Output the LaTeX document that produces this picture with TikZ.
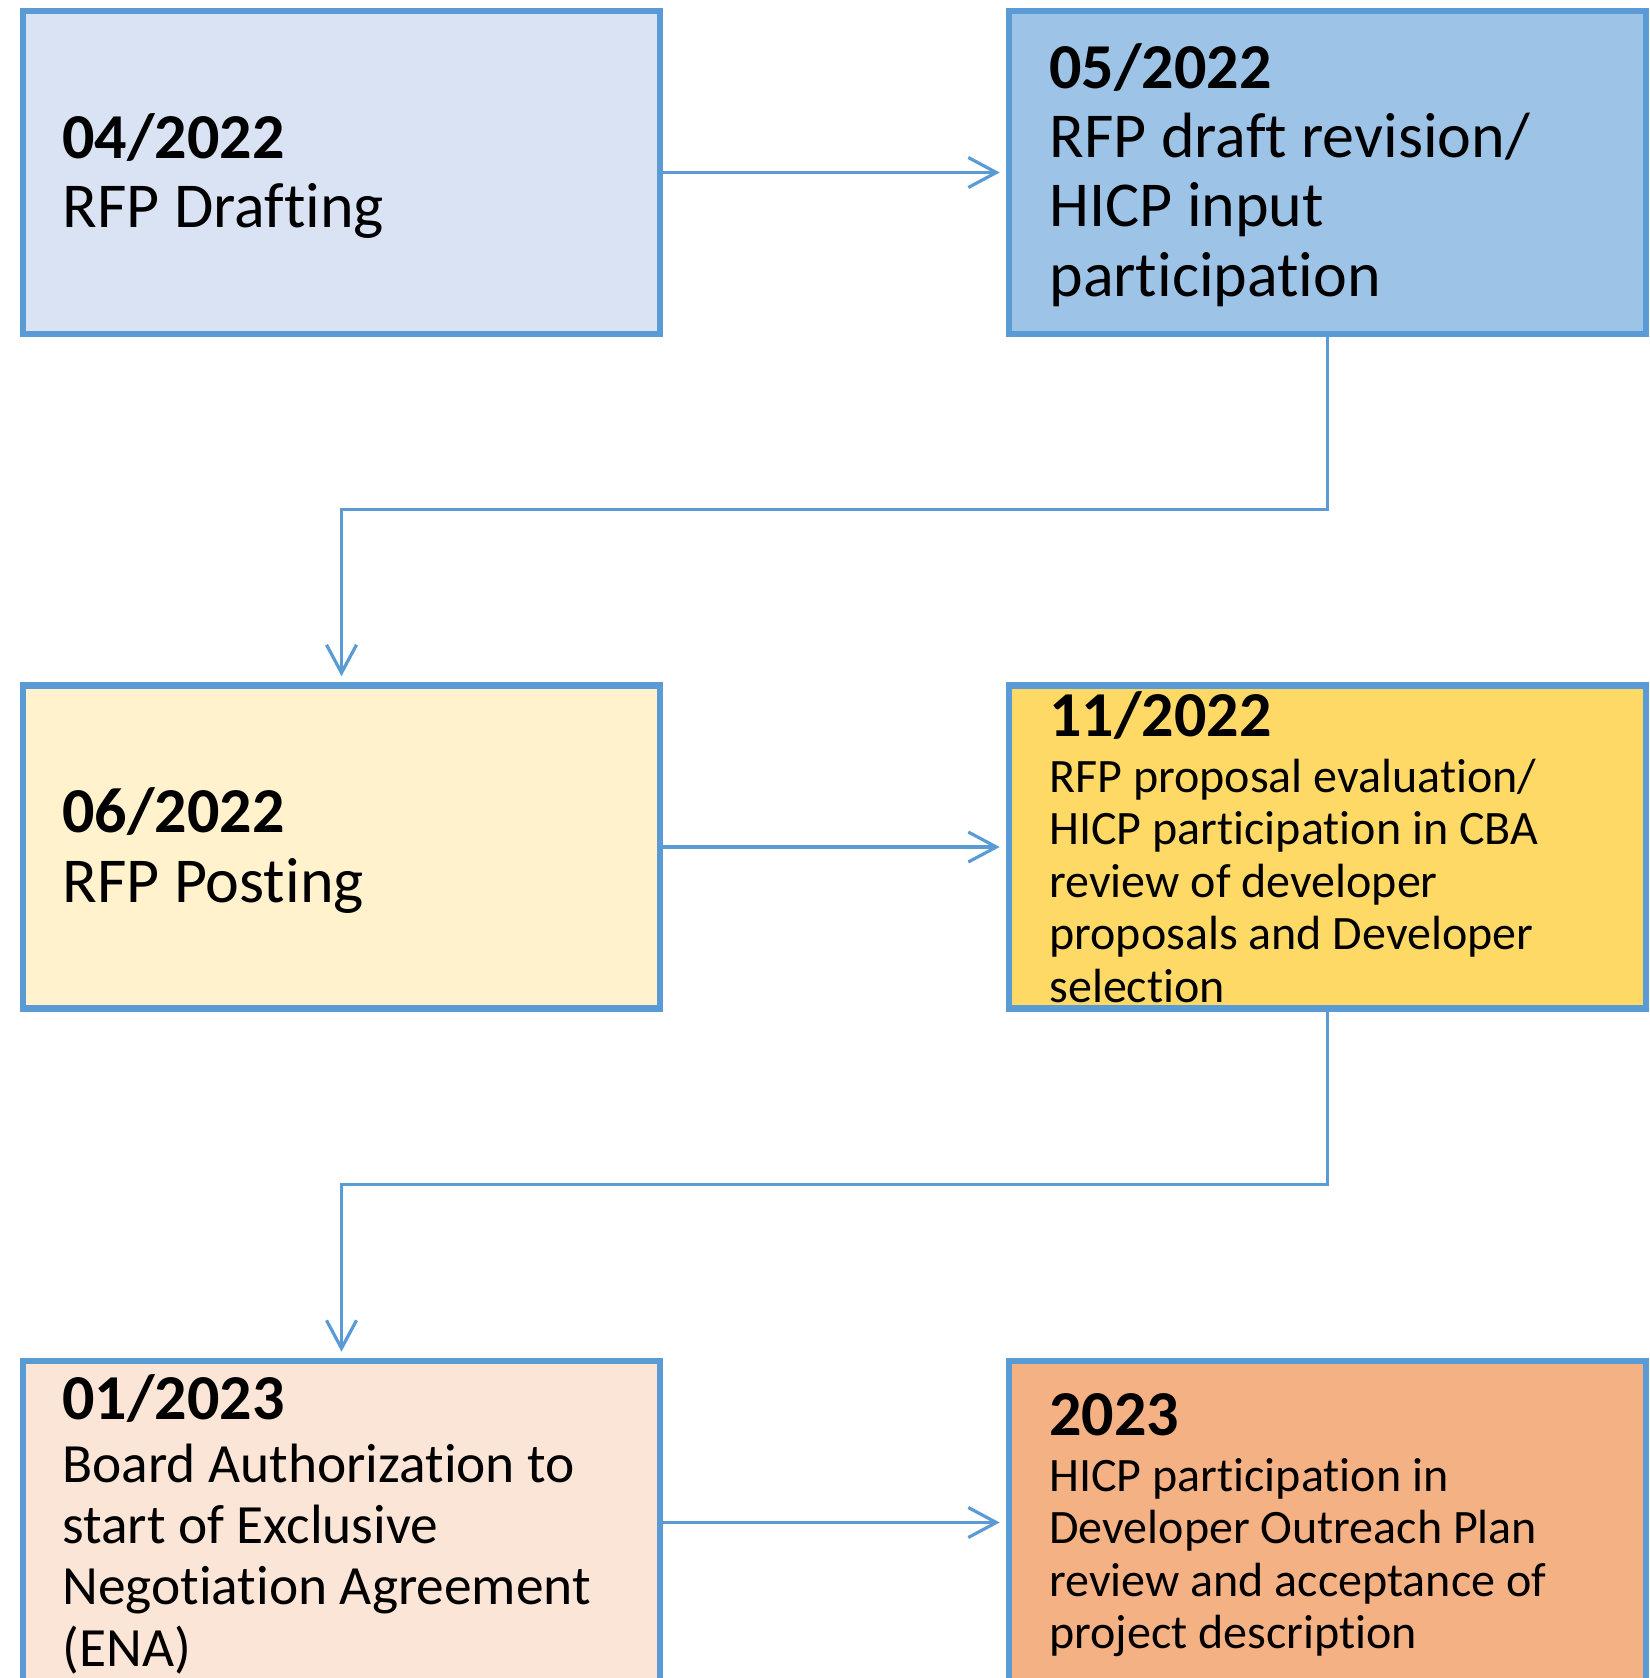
\documentclass[tikz,border=0pt]{standalone}
\usepackage{fontspec}
\setmainfont[Ligatures=NoCommon]{Carlito}
\usetikzlibrary{arrows.meta,calc}
\definecolor{edgeblue}{HTML}{5B9BD5}
\definecolor{draftfill}{HTML}{DAE3F3}
\definecolor{revisefill}{HTML}{9DC3E6}
\definecolor{postfill}{HTML}{FFF2CC}
\definecolor{evalfill}{HTML}{FFD966}
\definecolor{boardfill}{HTML}{FBE5D6}
\definecolor{outreachfill}{HTML}{F4B183}
\newcommand{\datetag}[1]{{\fontsize{32pt}{34pt}\selectfont\bfseries #1}}

\begin{document}
\begin{tikzpicture}[x=0.5pt,y=-0.5pt,
		box/.style={draw=edgeblue,line width=3.3pt,minimum width=318.5pt,minimum height=161.5pt,inner sep=0pt},
		txt/.style={anchor=base west,inner sep=0pt},
		conn/.style={draw=edgeblue,line width=1.6pt,-{Straight Barb[length=14pt,width=15pt]},shorten >=3pt}]
			\useasboundingbox (0,0) rectangle (1650,1678);
			\draw (341.5,172.5) node[box,fill=draftfill] (b1) {};
			\draw (1327.5,172.5) node[box,fill=revisefill] (b2) {};
			\draw (341.5,847) node[box,fill=postfill] (b3) {};
			\draw (1327.5,847) node[box,fill=evalfill] (b4) {};
			\draw (341.5,1522.5) node[box,fill=boardfill] (b5) {};
			\draw (1327.5,1522.5) node[box,fill=outreachfill] (b6) {};
			\draw (62,158) node[txt] (t1) {\parbox[t]{290pt}{\fontsize{32pt}{34.5pt}\selectfont\datetag{04/2022}\\RFP Drafting}};
			\draw (1049,88) node[txt] (t2) {\parbox[t]{290pt}{\fontsize{32pt}{34.7pt}\selectfont\datetag{05/2022}\\RFP draft revision/\\HICP input\\participation}};
			\draw (62,832) node[txt] (t3) {\parbox[t]{290pt}{\fontsize{32pt}{35pt}\selectfont\datetag{06/2022}\\RFP Posting}};
			\draw (1049,736) node[txt] (t4) {\parbox[t]{290pt}{\datetag{11/2022}\\[1.75pt]\fontsize{24pt}{26.25pt}\selectfont RFP proposal evaluation/\\HICP participation in CBA\\review of developer\\proposals and Developer\\selection}};
			\draw (62,1419) node[txt] (t5) {\parbox[t]{290pt}{\datetag{01/2023}\\[0.8pt]\fontsize{27.7pt}{30.7pt}\selectfont Board Authorization to\\start of Exclusive\\Negotiation Agreement\\(ENA)}};
			\draw (1049,1435) node[txt] (t6) {\parbox[t]{290pt}{\datetag{2023}\\[1.7pt]\fontsize{24pt}{26.3pt}\selectfont HICP participation in\\Developer Outreach Plan\\review and acceptance of\\project description}};
			\draw[conn] (b1) -- (b2);
			\draw[conn] (b3) -- (b4);
			\draw[conn] (b5) -- (b6);
			\draw[conn] (b2.south) -- ($(b2.south)!.5!(b2.south |- b3.north)$) -| (b3.north);
			\draw[conn] (b4.south) -- ($(b4.south)!.5!(b4.south |- b5.north)$) -| (b5.north);
		\end{tikzpicture}
\end{document}
